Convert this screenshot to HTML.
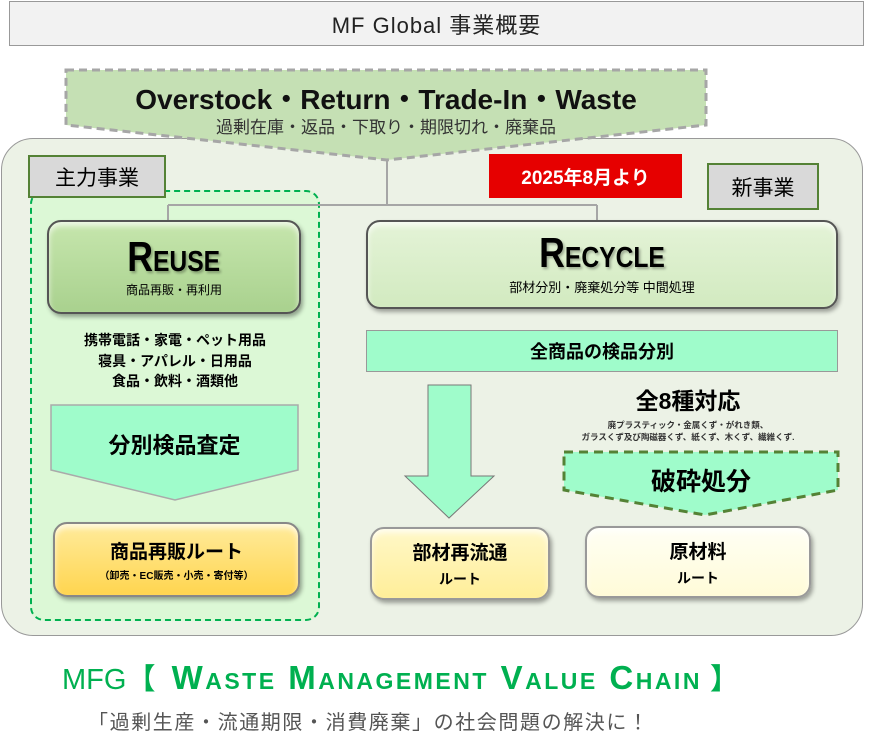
<!DOCTYPE html>
<html><head><meta charset="utf-8"><style>
body{margin:0;width:874px;height:752px;background:#fff;position:relative;overflow:hidden;font-family:"Liberation Sans","Noto Sans CJK JP",sans-serif;}
.a{position:absolute;box-sizing:border-box;}
.c{display:flex;flex-direction:column;align-items:center;justify-content:center;text-align:center;}
.btn{border-radius:14px;border:2px solid #555;box-shadow:2px 3px 4px rgba(0,0,0,.35), inset 0 4px 6px rgba(255,255,255,.7);}
.sc{font-variant:small-caps;}
.big{font-size:42px;font-weight:bold;line-height:40px;text-shadow:2px 2px 3px rgba(0,0,0,.3);transform:scaleX(0.85);}
</style></head><body>
<div class="a c" style="left:9px;top:1px;width:855px;height:45px;background:#f2f2f2;border:1px solid #999;font-size:22px;letter-spacing:1px;color:#222;">MF Global 事業概要</div>
<div class="a" style="left:1px;top:138px;width:862px;height:498px;background:#ecf2e6;border:1px solid #999;border-radius:32px;"></div>
<div class="a" style="left:30px;top:190px;width:290px;height:431px;background:#dcf8d6;border:2px dashed #00b050;border-radius:14px;"></div>
<svg class="a" style="left:0;top:0" width="874" height="752">
<polygon points="66,70 706,70 706,125 387,160 66,125" fill="#c5e0b4" stroke="#a6a6a6" stroke-width="3" stroke-dasharray="8,5"/>
<path d="M387,160V205M168,205H597M168,205V220M597,205V220" stroke="#a6a6a6" stroke-width="2" fill="none"/>
<polygon points="51,405 298,405 298,470 175,500 51,470" fill="#9ffccb" stroke="#aaa" stroke-width="1.5"/>
<polygon points="428,385 471,385 471,476 494,476 449,518 405,476 428,476" fill="#9ffccb" stroke="#777" stroke-width="1"/>
<polygon points="564,452 838,452 838,490 705,515 564,490" fill="#9ffccb" stroke="#548235" stroke-width="3" stroke-dasharray="9,6"/>
</svg>
<div class="a c" style="left:66px;top:78px;width:640px;font-size:28px;font-weight:bold;color:#111;">Overstock・Return・Trade-In・Waste</div>
<div class="a c" style="left:66px;top:113px;width:640px;font-size:17px;color:#333;">過剰在庫・返品・下取り・期限切れ・廃棄品</div>
<div class="a c" style="left:28px;top:155px;width:138px;height:43px;background:#d9d9d9;border:2px solid #548235;font-size:21px;">主力事業</div>
<div class="a c" style="left:489px;top:154px;width:193px;height:44px;background:#e60000;color:#fff;font-weight:bold;font-size:19px;">2025年8月より</div>
<div class="a c" style="left:707px;top:163px;width:112px;height:47px;background:#d9d9d9;border:2px solid #548235;font-size:21px;">新事業</div>
<div class="a c btn" style="left:47px;top:220px;width:254px;height:94px;background:linear-gradient(#c6e6ad,#a9d18e);">
<div class="sc big">Reuse</div>
<div style="font-size:12px;margin-top:4px">商品再販・再利用</div></div>
<div class="a c btn" style="left:366px;top:220px;width:472px;height:89px;background:linear-gradient(#e4f3d7,#d2eac0);">
<div class="sc big">Recycle</div>
<div style="font-size:13px;margin-top:4px">部材分別・廃棄処分等 中間処理</div></div>
<div class="a c" style="left:30px;top:330px;width:290px;font-size:14px;font-weight:bold;line-height:20.5px;">携帯電話・家電・ペット用品<br>寝具・アパレル・日用品<br>食品・飲料・酒類他</div>
<div class="a c" style="left:51px;top:428px;width:247px;font-size:22px;font-weight:bold;">分別検品査定</div>
<div class="a c btn" style="left:53px;top:522px;width:247px;height:75px;background:linear-gradient(#ffeb9c,#ffd54f);border-color:#888;">
<div style="font-size:19px;font-weight:bold">商品再販ルート</div><div style="font-size:10px;font-weight:bold;margin-top:3px">（卸売・EC販売・小売・寄付等）</div></div>
<div class="a c" style="left:366px;top:330px;width:472px;height:42px;background:#9ffccb;border:1px solid #999;font-size:18px;font-weight:bold;">全商品の検品分別</div>
<div class="a c" style="left:560px;top:386px;width:256px;font-size:23px;line-height:30px;font-weight:bold;">全8種対応</div>
<div class="a c" style="left:540px;top:419px;width:296px;font-size:8.5px;font-weight:bold;line-height:12px;color:#333;">廃プラスティック・金属くず・がれき類、<br>ガラスくず及び陶磁器くず、紙くず、木くず、繊維くず.</div>
<div class="a c" style="left:564px;top:462px;width:274px;font-size:25px;font-weight:bold;">破砕処分</div>
<div class="a c btn" style="left:370px;top:527px;width:180px;height:73px;background:linear-gradient(#fff8c8,#ffee99);border-color:#999;">
<div style="font-size:19px;font-weight:bold">部材再流通</div><div style="font-size:14px;font-weight:bold;margin-top:4px">ルート</div></div>
<div class="a c btn" style="left:585px;top:526px;width:226px;height:72px;background:linear-gradient(#fffff4,#fffbd8);border-color:#999;">
<div style="font-size:19px;font-weight:bold">原材料</div><div style="font-size:14px;font-weight:bold;margin-top:4px">ルート</div></div>
<div class="a" style="left:62px;top:656px;font-size:29px;color:#00b050;white-space:nowrap;"><span>MFG</span><b>【&nbsp;&nbsp;<span class="sc" style="font-size:33px;letter-spacing:2.5px">Waste Management Value Chain</span>&nbsp;】</b></div>
<div class="a" style="left:88px;top:706px;font-size:20px;letter-spacing:1.6px;color:#555;white-space:nowrap;">「過剰生産・流通期限・消費廃棄」の社会問題の解決に！</div>
</body></html>
